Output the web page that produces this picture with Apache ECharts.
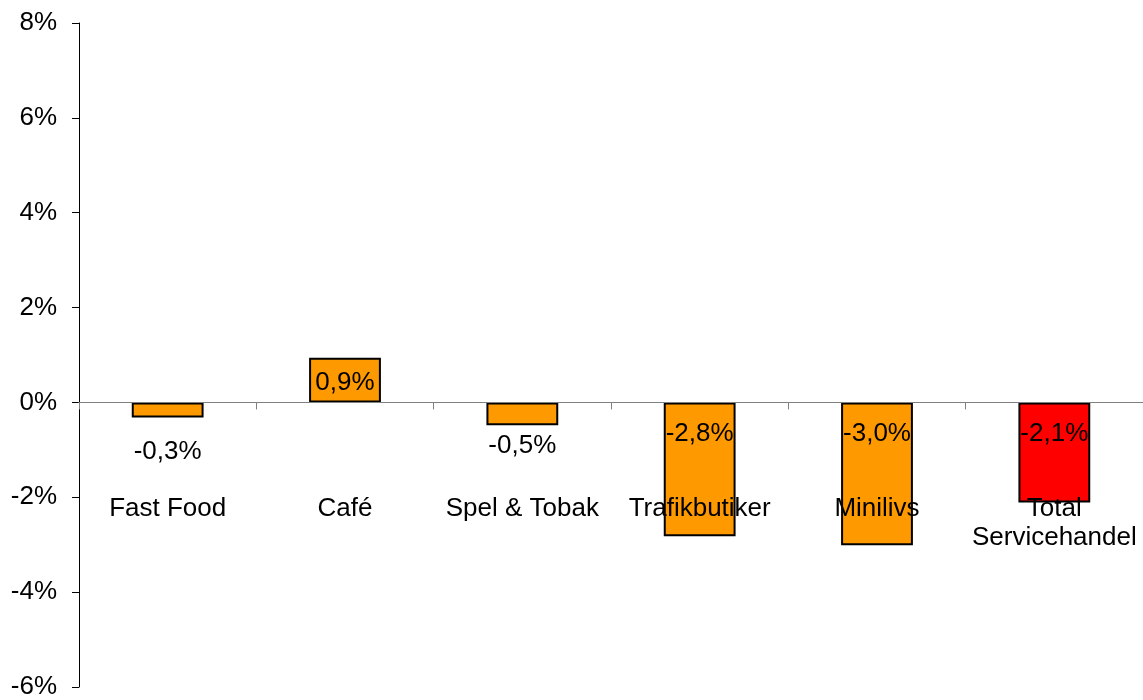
<!DOCTYPE html>
<html>
<head>
<meta charset="utf-8">
<script src="https://cdn.jsdelivr.net/npm/echarts@6/dist/echarts.min.js"></script>
<style>
html,body{margin:0;padding:0;background:#fff;}
#chart{width:1143px;height:700px;}
</style>
</head>
<body>
<div id="chart"></div>
<script>
var categories = ['Fast Food', 'Café', 'Spel & Tobak', 'Trafikbutiker', 'Minilivs', 'Total\nServicehandel'];
var values = [-0.32, 0.94, -0.48, -2.82, -3.01, -2.11];
var yTicks = [-6, -4, -2, 0, 2, 4, 6, 8];

// styling (not data)
var barColors = ['#FF9900', '#FF9900', '#FF9900', '#FF9900', '#FF9900', '#FF0000'];
var labelPos = ['insideTop', 'inside', 'insideTop', 'insideTop', 'insideTop', 'insideTop'];
var labelDist = [36, 0, 30, 18, 18, 18];
var labelOff = [[0, 0], [0, 3], [0, 0], [0, 0], [0, 0], [0, 0]];

function fmt(v) { return v.toFixed(1).replace('.', ',') + '%'; }

var FONT = 'Liberation Sans, Arial, sans-serif';
var FS = 26;

var seriesData = values.map(function (v, i) {
  return {
    value: v,
    itemStyle: { color: barColors[i] },
    label: { position: labelPos[i], distance: labelDist[i], offset: labelOff[i] }
  };
});

var chart = echarts.init(document.getElementById('chart'), null, { renderer: 'canvas' });
chart.setOption({
  animation: false,
  backgroundColor: '#ffffff',
  grid: { left: 79, right: 0, top: 23, bottom: 13, containLabel: false, outerBoundsMode: 'none' },
  xAxis: {
    type: 'category',
    data: categories,
    boundaryGap: true,
    z: 5,
    axisLine: { onZero: true, lineStyle: { color: '#808080', width: 1 } },
    axisTick: { show: true, length: 7, inside: false, alignWithLabel: false, lineStyle: { color: '#808080' } },
    axisLabel: {
      interval: 0,
      margin: -193,
      color: '#000',
      fontFamily: FONT,
      fontSize: FS,
      lineHeight: 29
    },
    splitLine: { show: false }
  },
  yAxis: {
    type: 'value',
    min: yTicks[0],
    max: yTicks[yTicks.length - 1],
    interval: 2,
    axisLine: { show: true, lineStyle: { color: '#000', width: 1 } },
    axisTick: { show: true, length: 7, lineStyle: { color: '#000' } },
    axisLabel: {
      margin: 22,
      color: '#000',
      fontFamily: FONT,
      fontSize: FS,
      formatter: function (v) { return v + '%'; }
    },
    splitLine: { show: false }
  },
  series: [{
    type: 'bar',
    z: 2,
    data: seriesData,
    barWidth: '40.5%',
    itemStyle: { borderColor: '#000', borderWidth: 2 },
    label: {
      show: true,
      color: '#000',
      fontFamily: FONT,
      fontSize: FS,
      formatter: function (p) { return fmt(p.value); }
    }
  }]
});
</script>
</body>
</html>
